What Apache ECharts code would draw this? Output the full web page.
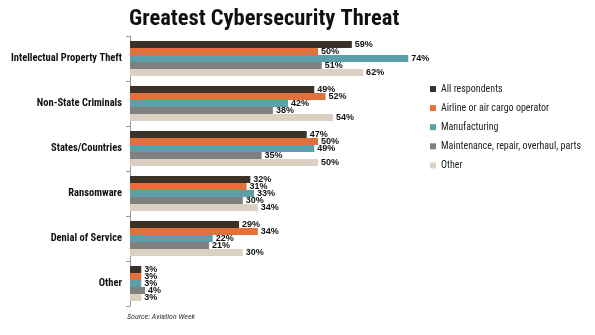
<!DOCTYPE html>
<html><head><meta charset="utf-8">
<script src="https://cdn.jsdelivr.net/npm/echarts@6/dist/echarts.min.js"></script>
<style>html,body{margin:0;padding:0;background:#fff}#c{width:595px;height:335px}</style>
</head><body><div id="c"></div>
<script>
const categories = ["Intellectual Property Theft","Non-State Criminals","States/Countries","Ransomware","Denial of Service","Other"];
const seriesNames = ["All respondents","Airline or air cargo operator","Manufacturing","Maintenance, repair, overhaul, parts","Other"];
const allRespondents = [59,49,47,32,29,3];
const airline = [50,52,50,31,34,3];
const manufacturing = [74,42,49,33,22,3];
const mro = [51,38,35,30,21,4];
const otherResp = [62,54,50,34,30,3];
const seriesValues = [allRespondents, airline, manufacturing, mro, otherResp];
const colors = ["#3b3126","#e2703a","#5b9fa9","#808080","#dbd0c2"];

const chart = echarts.init(document.getElementById('c'), null, {renderer:'canvas'});
const narrow = "'Roboto Condensed','Liberation Sans Narrow',sans-serif";
chart.setOption({
  animation:false,
  title:[{text:"Greatest Cybersecurity Threat", left:129, top:8, padding:0,
    textStyle:{fontFamily:narrow, fontWeight:'bold', fontSize:22.5, color:'#111'}},
    {text:"Source: Aviation Week", left:127, top:313, padding:0,
    textStyle:{fontFamily:narrow, fontStyle:'italic', fontWeight:'normal', fontSize:8, color:'#333'}}],
  legend:{orient:'vertical', left:430, top:83, padding:0, itemWidth:6, itemHeight:6, itemGap:7.1, icon:'rect',
    textStyle:{fontFamily:narrow, fontSize:10, lineHeight:12, color:'#222'},
    data:seriesNames.map(n=>({name:n}))},
  grid:{left:130, right:89, top:36, bottom:29, containLabel:false, outerBoundsMode:'none'},
  xAxis:{type:'value', min:0, max:100, show:false},
  yAxis:{type:'category', data:categories, inverse:true,
    axisLine:{show:true, lineStyle:{color:'#999', width:1}},
    axisTick:{show:true, length:4, lineStyle:{color:'#999'}},
    axisLabel:{fontFamily:narrow, fontSize:10.5, fontWeight:'bold', color:'#111', margin:8}},
  series:seriesNames.map((n,i)=>({
    name:n, type:'bar', data:seriesValues[i], barWidth:7, barGap:'0%',
    itemStyle:{color:colors[i]},
    label:{show:true, position:'right', distance:3, formatter:'{c}%',
      fontFamily:"'Liberation Sans',Arial,sans-serif", fontWeight:'bold', fontSize:9, color:'#111'}
  }))
});
</script></body></html>
